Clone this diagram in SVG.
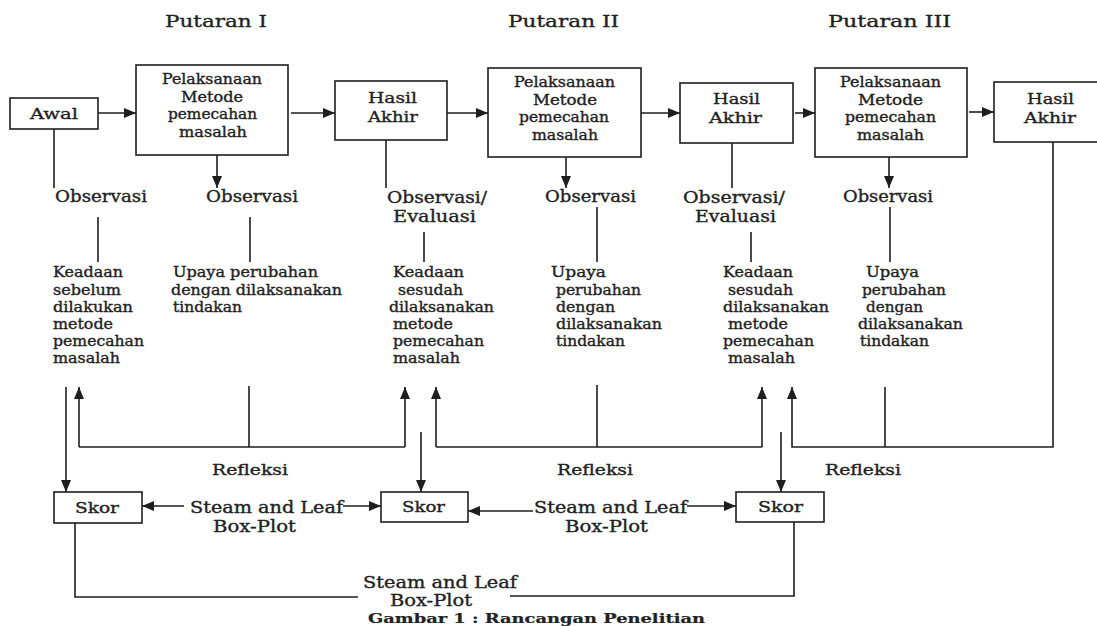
<svg xmlns="http://www.w3.org/2000/svg" width="1097" height="626" viewBox="0 0 1097 626">
<style>
.ln{stroke:#1e1e1e;stroke-width:1.6;fill:none}
.bx{fill:#fff;stroke:#1e1e1e;stroke-width:1.6}
text{font-family:"DejaVu Serif","Liberation Serif",serif;fill:#222;stroke:#222;stroke-width:0.35}
.t14{font-size:14px}
.t15{font-size:15px}
.t16{font-size:16px}
.t17{font-size:17.5px;stroke-width:0.5}
.cap{font-size:13px;font-weight:bold;stroke-width:0.2}
</style>
<defs>
<marker id="ah" viewBox="0 0 12 10" refX="12" refY="5" markerWidth="12" markerHeight="10" markerUnits="userSpaceOnUse" orient="auto">
<path d="M0,0 L12,5 L0,10 z" fill="#1e1e1e"/>
</marker>
</defs>
<rect width="1097" height="626" fill="#fff"/>

<g id="titles" class="t17">
<text x="165" y="27" textLength="102" lengthAdjust="spacingAndGlyphs">Putaran I</text>
<text x="508" y="27" textLength="111" lengthAdjust="spacingAndGlyphs">Putaran II</text>
<text x="828" y="27" textLength="123" lengthAdjust="spacingAndGlyphs">Putaran III</text>
</g>

<g id="connectors">
<path class="ln" d="M98,113 H136" marker-end="url(#ah)"/>
<path class="ln" d="M291,113 H335" marker-end="url(#ah)"/>
<path class="ln" d="M447,113 H488" marker-end="url(#ah)"/>
<path class="ln" d="M641,113 H680" marker-end="url(#ah)"/>
<path class="ln" d="M795,113 H815" marker-end="url(#ah)"/>
<path class="ln" d="M969,112 H994" marker-end="url(#ah)"/>
<path class="ln" d="M54,129 V188"/>
<path class="ln" d="M217,155 V188" marker-end="url(#ah)"/>
<path class="ln" d="M386,140 V188"/>
<path class="ln" d="M566,157 V188" marker-end="url(#ah)"/>
<path class="ln" d="M732,143 V188"/>
<path class="ln" d="M889,157 V188" marker-end="url(#ah)"/>
<path class="ln" d="M98,217 V262"/>
<path class="ln" d="M250,217 V262"/>
<path class="ln" d="M424,232 V262"/>
<path class="ln" d="M597,207 V262"/>
<path class="ln" d="M751,232 V262"/>
<path class="ln" d="M890,207 V262"/>
<path class="ln" d="M66,387 V492" marker-end="url(#ah)"/>
<path class="ln" d="M79,447 V387" marker-end="url(#ah)"/>
<path class="ln" d="M79,447 H405"/>
<path class="ln" d="M249,386 V447"/>
<path class="ln" d="M405,447 V387" marker-end="url(#ah)"/>
<path class="ln" d="M421,432 V492" marker-end="url(#ah)"/>
<path class="ln" d="M436,447 V387" marker-end="url(#ah)"/>
<path class="ln" d="M436,447 H762"/>
<path class="ln" d="M597,385 V447"/>
<path class="ln" d="M762,447 V387" marker-end="url(#ah)"/>
<path class="ln" d="M781,432 V492" marker-end="url(#ah)"/>
<path class="ln" d="M1053,142 V447 H792 V387" marker-end="url(#ah)"/>
<path class="ln" d="M885,387 V447"/>
<path class="ln" d="M184,506 H142" marker-end="url(#ah)"/>
<path class="ln" d="M343,506 H381" marker-end="url(#ah)"/>
<path class="ln" d="M533,511 H468" marker-end="url(#ah)"/>
<path class="ln" d="M687,506 H736" marker-end="url(#ah)"/>
<path class="ln" d="M75,523 V597 H358"/>
<path class="ln" d="M510,596 H794 V522"/>
</g>

<g id="awal">
<rect class="bx" x="10" y="98" width="88" height="31"/>
<text class="t15" x="30" y="119" textLength="48" lengthAdjust="spacingAndGlyphs">Awal</text>
</g>

<g id="pelaksanaan1" class="t14">
<rect class="bx" x="136" y="65" width="152" height="90"/>
<text x="162" y="84" textLength="100" lengthAdjust="spacingAndGlyphs">Pelaksanaan</text>
<text x="181" y="102" textLength="62" lengthAdjust="spacingAndGlyphs">Metode</text>
<text x="168" y="119" textLength="89" lengthAdjust="spacingAndGlyphs">pemecahan</text>
<text x="179" y="137" textLength="68" lengthAdjust="spacingAndGlyphs">masalah</text>
</g>

<g id="hasil1" class="t15">
<rect class="bx" x="335" y="81" width="112" height="59"/>
<text x="368" y="103" textLength="49" lengthAdjust="spacingAndGlyphs">Hasil</text>
<text x="368" y="122" textLength="50" lengthAdjust="spacingAndGlyphs">Akhir</text>
</g>

<g id="pelaksanaan2" class="t14">
<rect class="bx" x="488" y="68" width="153" height="89"/>
<text x="514" y="87" textLength="101" lengthAdjust="spacingAndGlyphs">Pelaksanaan</text>
<text x="533" y="105" textLength="64" lengthAdjust="spacingAndGlyphs">Metode</text>
<text x="519" y="122" textLength="90" lengthAdjust="spacingAndGlyphs">pemecahan</text>
<text x="532" y="140" textLength="66" lengthAdjust="spacingAndGlyphs">masalah</text>
</g>

<g id="hasil2" class="t15">
<rect class="bx" x="680" y="83" width="113" height="60"/>
<text x="713" y="104" textLength="47" lengthAdjust="spacingAndGlyphs">Hasil</text>
<text x="709" y="123" textLength="53" lengthAdjust="spacingAndGlyphs">Akhir</text>
</g>

<g id="pelaksanaan3" class="t14">
<rect class="bx" x="815" y="68" width="152" height="89"/>
<text x="840" y="87" textLength="101" lengthAdjust="spacingAndGlyphs">Pelaksanaan</text>
<text x="858" y="105" textLength="65" lengthAdjust="spacingAndGlyphs">Metode</text>
<text x="845" y="122" textLength="91" lengthAdjust="spacingAndGlyphs">pemecahan</text>
<text x="857" y="140" textLength="67" lengthAdjust="spacingAndGlyphs">masalah</text>
</g>

<g id="hasil3" class="t15">
<rect class="bx" x="994" y="82" width="112" height="60"/>
<text x="1027" y="104" textLength="47" lengthAdjust="spacingAndGlyphs">Hasil</text>
<text x="1024" y="123" textLength="52" lengthAdjust="spacingAndGlyphs">Akhir</text>
</g>

<g id="observasi" class="t16">
<text x="55" y="202" textLength="92" lengthAdjust="spacingAndGlyphs">Observasi</text>
<text x="206" y="202" textLength="92" lengthAdjust="spacingAndGlyphs">Observasi</text>
<text x="387" y="203" textLength="100" lengthAdjust="spacingAndGlyphs">Observasi/</text>
<text x="393" y="222" textLength="83" lengthAdjust="spacingAndGlyphs">Evaluasi</text>
<text x="545" y="202" textLength="91" lengthAdjust="spacingAndGlyphs">Observasi</text>
<text x="683" y="203" textLength="102" lengthAdjust="spacingAndGlyphs">Observasi/</text>
<text x="695" y="222" textLength="81" lengthAdjust="spacingAndGlyphs">Evaluasi</text>
<text x="843" y="202" textLength="90" lengthAdjust="spacingAndGlyphs">Observasi</text>
</g>

<g id="keadaan1" class="t14">
<text x="53" y="277" textLength="70" lengthAdjust="spacingAndGlyphs">Keadaan</text>
<text x="53" y="294.5" textLength="68" lengthAdjust="spacingAndGlyphs">sebelum</text>
<text x="53" y="312" textLength="80" lengthAdjust="spacingAndGlyphs">dilakukan</text>
<text x="53" y="329" textLength="60" lengthAdjust="spacingAndGlyphs">metode</text>
<text x="53" y="346" textLength="91" lengthAdjust="spacingAndGlyphs">pemecahan</text>
<text x="53" y="363" textLength="67" lengthAdjust="spacingAndGlyphs">masalah</text>
</g>

<g id="upaya1" class="t14">
<text x="173" y="277" textLength="145" lengthAdjust="spacingAndGlyphs">Upaya perubahan</text>
<text x="171" y="294.5" textLength="171" lengthAdjust="spacingAndGlyphs">dengan  dilaksanakan</text>
<text x="173" y="312" textLength="69" lengthAdjust="spacingAndGlyphs">tindakan</text>
</g>

<g id="keadaan2" class="t14">
<text x="393" y="277" textLength="71" lengthAdjust="spacingAndGlyphs">Keadaan</text>
<text x="398" y="294.5" textLength="65" lengthAdjust="spacingAndGlyphs">sesudah</text>
<text x="389" y="312" textLength="105" lengthAdjust="spacingAndGlyphs">dilaksanakan</text>
<text x="393" y="329" textLength="60" lengthAdjust="spacingAndGlyphs">metode</text>
<text x="393" y="346" textLength="91" lengthAdjust="spacingAndGlyphs">pemecahan</text>
<text x="393" y="363" textLength="67" lengthAdjust="spacingAndGlyphs">masalah</text>
</g>

<g id="upaya2" class="t14">
<text x="551" y="277" textLength="55" lengthAdjust="spacingAndGlyphs">Upaya</text>
<text x="556" y="294.5" textLength="85" lengthAdjust="spacingAndGlyphs">perubahan</text>
<text x="556" y="312" textLength="59" lengthAdjust="spacingAndGlyphs">dengan</text>
<text x="556" y="329" textLength="106" lengthAdjust="spacingAndGlyphs">dilaksanakan</text>
<text x="556" y="346" textLength="69" lengthAdjust="spacingAndGlyphs">tindakan</text>
</g>

<g id="keadaan3" class="t14">
<text x="723" y="277" textLength="70" lengthAdjust="spacingAndGlyphs">Keadaan</text>
<text x="728" y="294.5" textLength="65" lengthAdjust="spacingAndGlyphs">sesudah</text>
<text x="723" y="312" textLength="106" lengthAdjust="spacingAndGlyphs">dilaksanakan</text>
<text x="728" y="329" textLength="60" lengthAdjust="spacingAndGlyphs">metode</text>
<text x="723" y="346" textLength="91" lengthAdjust="spacingAndGlyphs">pemecahan</text>
<text x="728" y="363" textLength="67" lengthAdjust="spacingAndGlyphs">masalah</text>
</g>

<g id="upaya3" class="t14">
<text x="866" y="277" textLength="53" lengthAdjust="spacingAndGlyphs">Upaya</text>
<text x="862" y="294.5" textLength="84" lengthAdjust="spacingAndGlyphs">perubahan</text>
<text x="866" y="312" textLength="57" lengthAdjust="spacingAndGlyphs">dengan</text>
<text x="858" y="329" textLength="105" lengthAdjust="spacingAndGlyphs">dilaksanakan</text>
<text x="860" y="346" textLength="69" lengthAdjust="spacingAndGlyphs">tindakan</text>
</g>

<g id="refleksi" class="t15">
<text x="212" y="475" textLength="76" lengthAdjust="spacingAndGlyphs">Refleksi</text>
<text x="557" y="475" textLength="76" lengthAdjust="spacingAndGlyphs">Refleksi</text>
<text x="825" y="475" textLength="76" lengthAdjust="spacingAndGlyphs">Refleksi</text>
</g>

<g id="skor1" class="t15">
<rect class="bx" x="54" y="492" width="88" height="31"/>
<text x="75" y="513" textLength="44" lengthAdjust="spacingAndGlyphs">Skor</text>
</g>
<g id="skor2" class="t15">
<rect class="bx" x="381" y="492" width="87" height="30"/>
<text x="402" y="512" textLength="43" lengthAdjust="spacingAndGlyphs">Skor</text>
</g>
<g id="skor3" class="t15">
<rect class="bx" x="736" y="492" width="88" height="30"/>
<text x="758" y="512" textLength="45" lengthAdjust="spacingAndGlyphs">Skor</text>
</g>

<g id="stemleaf" class="t16">
<text x="190" y="513" textLength="153" lengthAdjust="spacingAndGlyphs">Steam and Leaf</text>
<text x="213" y="532" textLength="83" lengthAdjust="spacingAndGlyphs">Box-Plot</text>
<text x="534" y="513" textLength="153" lengthAdjust="spacingAndGlyphs">Steam and Leaf</text>
<text x="565" y="532" textLength="83" lengthAdjust="spacingAndGlyphs">Box-Plot</text>
<text x="363" y="588" textLength="154" lengthAdjust="spacingAndGlyphs">Steam and Leaf</text>
<text x="390" y="605.5" textLength="82" lengthAdjust="spacingAndGlyphs">Box-Plot</text>
</g>

<g id="caption">
<text class="cap" x="368" y="622.5" textLength="337" lengthAdjust="spacingAndGlyphs">Gambar 1 : Rancangan Penelitian</text>
</g>
</svg>
